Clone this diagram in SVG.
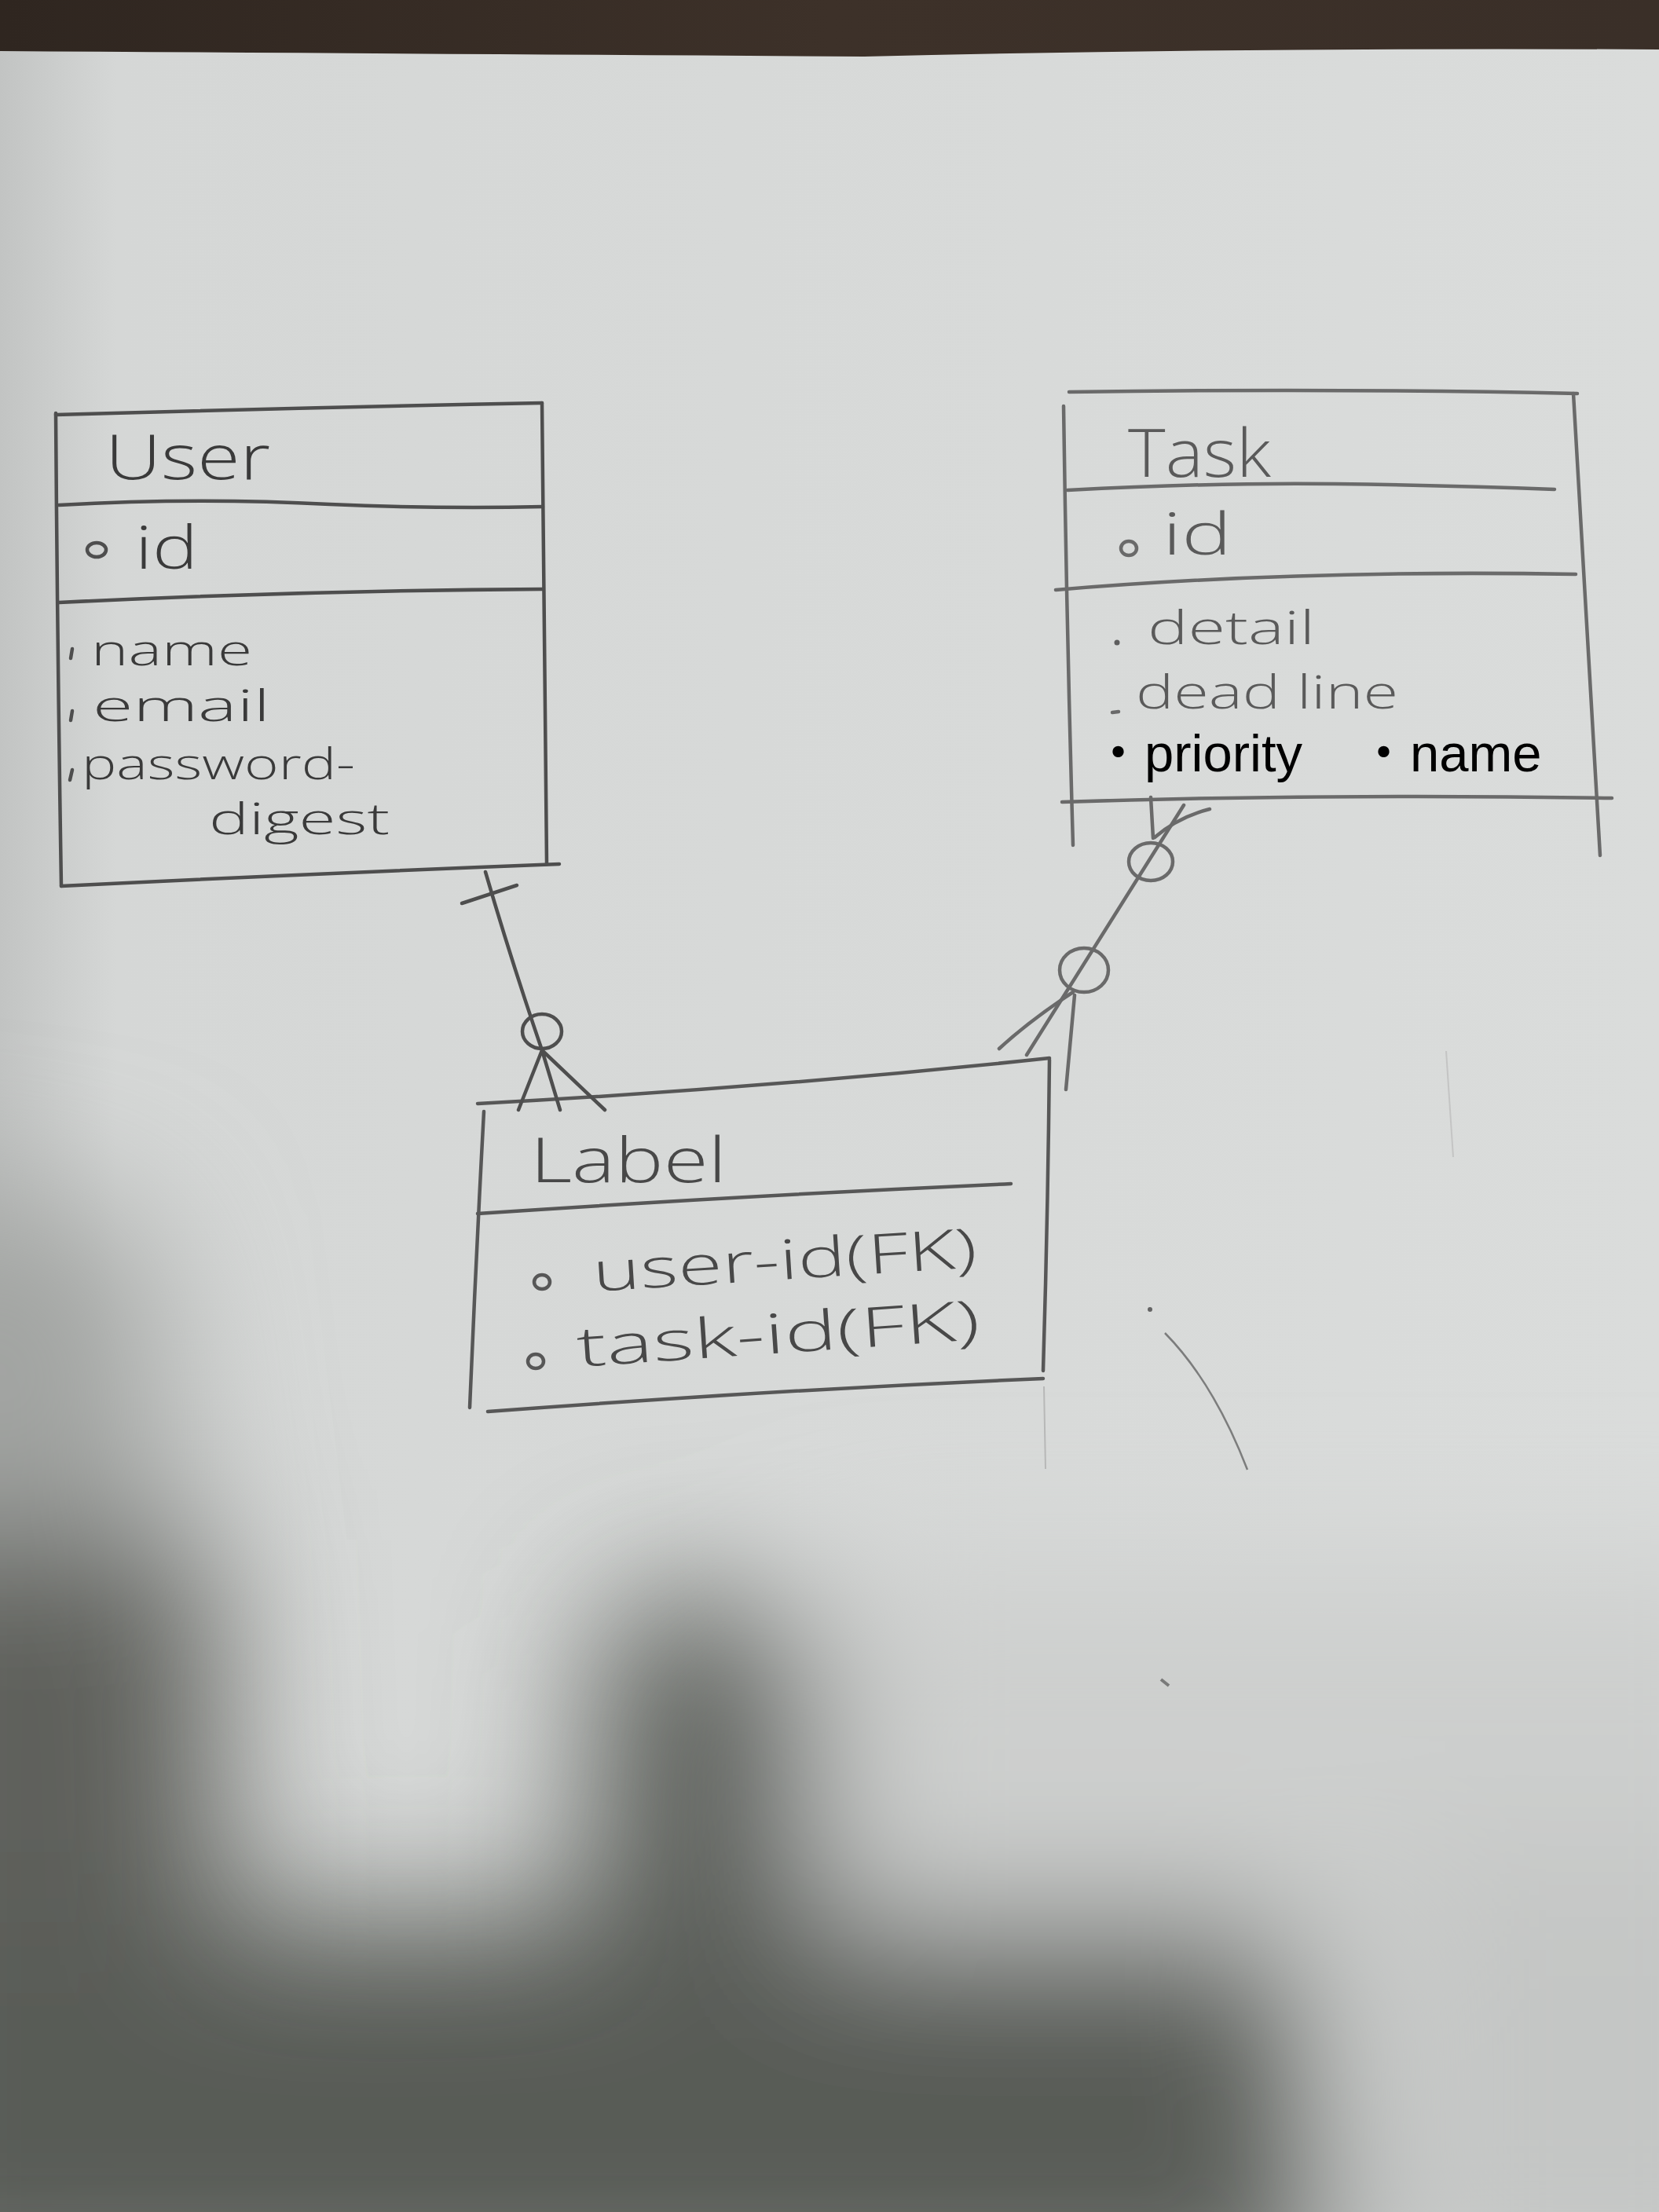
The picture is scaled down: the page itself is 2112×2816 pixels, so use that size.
<svg xmlns="http://www.w3.org/2000/svg" width="2112" height="2816" viewBox="0 0 2112 2816">
<defs>
<style>
.pen{fill:none;stroke:#4e4e4e;stroke-width:4.5;stroke-linecap:round;stroke-linejoin:round}
.pen2{fill:none;stroke:#6a6a6a;stroke-width:4.5;stroke-linecap:round;stroke-linejoin:round}
.pen3{fill:none;stroke:#575757;stroke-width:4.5;stroke-linecap:round;stroke-linejoin:round}
.hand{font-family:"Open Sans","Liberation Sans",sans-serif;font-weight:300;fill:#3a3a3a}
.hand2{font-family:"Open Sans","Liberation Sans",sans-serif;font-weight:300;fill:#5a5a5a}
.hand3{font-family:"Open Sans","Liberation Sans",sans-serif;font-weight:300;fill:#484848}
.typed{font-family:"Liberation Sans","Noto Sans CJK JP",sans-serif;fill:#000;font-size:67px}
</style>
<filter id="blur" filterUnits="userSpaceOnUse" x="-400" y="1200" width="3000" height="2000"><feGaussianBlur stdDeviation="95"/></filter>
<linearGradient id="paper" x1="0" y1="0" x2="1" y2="0">
<stop offset="0" stop-color="#c2c4c3"/>
<stop offset="0.07" stop-color="#d5d7d6"/>
<stop offset="1" stop-color="#dadcdb"/>
</linearGradient>
<linearGradient id="wood" x1="0" y1="0" x2="1" y2="0">
<stop offset="0" stop-color="#2f2620"/>
<stop offset="0.5" stop-color="#3d3129"/>
<stop offset="1" stop-color="#3a2f28"/>
</linearGradient>
</defs>

<!-- background: photographed paper with shadows -->
<rect width="2112" height="2816" fill="url(#paper)"/>
<g filter="url(#blur)">
<path d="M-200,1500 L180,1550 L230,1950 L-200,1950Z" fill="#a2a4a2"/>
<path d="M-200,1950 L270,1960 L300,2900 L-200,2900Z" fill="#5e605c"/>
<path d="M760,2080 Q890,1980 1030,2080 L1060,2900 L740,2900Z" fill="#5c5e5a"/>
<path d="M-200,2450 L1640,2430 L1700,2950 L-200,2950Z" fill="#595b57"/>
<path d="M1060,2000 L2300,2000 L2300,2450 L1060,2450Z" fill="#cdcfce"/>
<path d="M1750,2350 L2300,2350 L2300,2950 L1750,2950Z" fill="#c4c6c5"/>
</g>
<path d="M0,0 H2112 V63 Q1600,60 1100,72 Q500,68 0,65 Z" fill="url(#wood)"/>

<!-- stray pencil marks -->
<g opacity="0.7">
<path d="M1483,1697 Q1545,1760 1588,1871" fill="none" stroke="#555" stroke-width="2.5"/>
<circle cx="1464" cy="1667" r="3" fill="#333"/>
<path d="M1841,1338 L1850,1473" fill="none" stroke="#bbb" stroke-width="2"/>
<path d="M1329,1765 L1331,1870" fill="none" stroke="#aaa" stroke-width="2"/>
<path d="M1478,2138 L1488,2146" fill="none" stroke="#555" stroke-width="4"/>
</g>

<g id="user">
<path class="pen" d="M71,528 Q380,519 690,513"/>
<path class="pen" d="M71,526 Q73,820 78,1128"/>
<path class="pen" d="M690,513 Q692,800 696,1100"/>
<path class="pen" d="M75,643 Q250,633 420,642 Q560,648 691,645"/>
<path class="pen" d="M75,767 Q380,752 691,750"/>
<path class="pen" d="M78,1128 Q400,1112 712,1100"/>
<text class="hand" x="134" y="610" font-size="80" textLength="210" lengthAdjust="spacingAndGlyphs">User</text>
<ellipse class="pen" cx="123" cy="700" rx="12" ry="9" stroke-width="3.5"/>
<text class="hand" x="172" y="724" font-size="76" textLength="80" lengthAdjust="spacingAndGlyphs">id</text>
<path class="pen" d="M92,826 L90,838"/>
<text class="hand" x="116" y="847" font-size="56" textLength="205" lengthAdjust="spacingAndGlyphs">name</text>
<path class="pen" d="M92,905 L90,917"/>
<text class="hand" x="118" y="918" font-size="56" textLength="226" lengthAdjust="spacingAndGlyphs">email</text>
<path class="pen" d="M92,980 L89,993"/>
<text class="hand" x="104" y="992" font-size="56" textLength="348" lengthAdjust="spacingAndGlyphs">password-</text>
<text class="hand" x="266" y="1062" font-size="56" textLength="230" lengthAdjust="spacingAndGlyphs">digest</text>
</g>

<g id="task">
<path class="pen2" d="M1361,499 Q1700,494 2008,501"/>
<path class="pen2" d="M1354,517 Q1358,800 1366,1076"/>
<path class="pen2" d="M2003,501 Q2020,800 2037,1089"/>
<path class="pen2" d="M1359,624 Q1550,614 1700,616 Q1850,618 1979,623"/>
<path class="pen2" d="M1344,751 Q1650,725 2006,731"/>
<path class="pen2" d="M1352,1021 Q1700,1010 2052,1016"/>
<text class="hand2" x="1436" y="607" font-size="84" textLength="182" lengthAdjust="spacingAndGlyphs">Task</text>
<ellipse class="pen2" cx="1437" cy="698" rx="10" ry="9" stroke-width="3.5"/>
<text class="hand2" x="1480" y="706" font-size="74" textLength="88" lengthAdjust="spacingAndGlyphs">id</text>
<circle cx="1422" cy="818" r="3.5" fill="#5e5e5e"/>
<text class="hand2" x="1461" y="820" font-size="58" textLength="213" lengthAdjust="spacingAndGlyphs">detail</text>
<path class="pen2" d="M1416,907 L1424,906" stroke-width="3.5"/>
<text class="hand2" x="1446" y="902" font-size="58" textLength="334" lengthAdjust="spacingAndGlyphs">dead line</text>
<text class="typed" x="1390" y="982">・priority</text>
<text class="typed" x="1728" y="982">・name</text>
</g>

<g id="label">
<path class="pen3" d="M608,1405 Q980,1385 1336,1347"/>
<path class="pen3" d="M616,1415 Q606,1600 598,1792"/>
<path class="pen3" d="M1336,1349 Q1334,1550 1328,1745"/>
<path class="pen3" d="M608,1545 Q950,1522 1287,1507"/>
<path class="pen3" d="M621,1797 Q980,1770 1328,1755"/>
<text class="hand3" x="675" y="1505" font-size="80" textLength="250" lengthAdjust="spacingAndGlyphs">Label</text>
<ellipse class="pen3" cx="690" cy="1632" rx="10" ry="9" stroke-width="3.5"/>
<text class="hand3" x="756" y="1644" font-size="70" textLength="490" lengthAdjust="spacingAndGlyphs" transform="rotate(-3.6 756 1644)">user-id(FK)</text>
<ellipse class="pen3" cx="682" cy="1733" rx="10" ry="9" stroke-width="3.5"/>
<text class="hand3" x="736" y="1740" font-size="70" textLength="514" lengthAdjust="spacingAndGlyphs" transform="rotate(-3.9 736 1740)">task-id(FK)</text>
</g>

<g id="connectors">
<!-- User (one) to Label (zero or many) -->
<path class="pen" d="M618,1110 Q650,1220 690,1337"/>
<path class="pen" d="M588,1150 L658,1127"/>
<ellipse class="pen" cx="690" cy="1313" rx="25" ry="22"/>
<path class="pen" d="M690,1337 L660,1413 M690,1337 L713,1413 M690,1337 L770,1413"/>
<!-- Task (zero or many) to Label (zero or many) -->
<path class="pen2" d="M1507,1025 L1307,1343"/>
<path class="pen2" d="M1465,1015 L1468,1067 M1540,1030 Q1500,1040 1470,1066"/>
<ellipse class="pen2" cx="1465" cy="1097" rx="28" ry="24"/>
<ellipse class="pen2" cx="1380" cy="1235" rx="31" ry="28"/>
<path class="pen2" d="M1366,1263 Q1310,1300 1272,1335 M1368,1267 L1357,1387"/>
</g>
</svg>
